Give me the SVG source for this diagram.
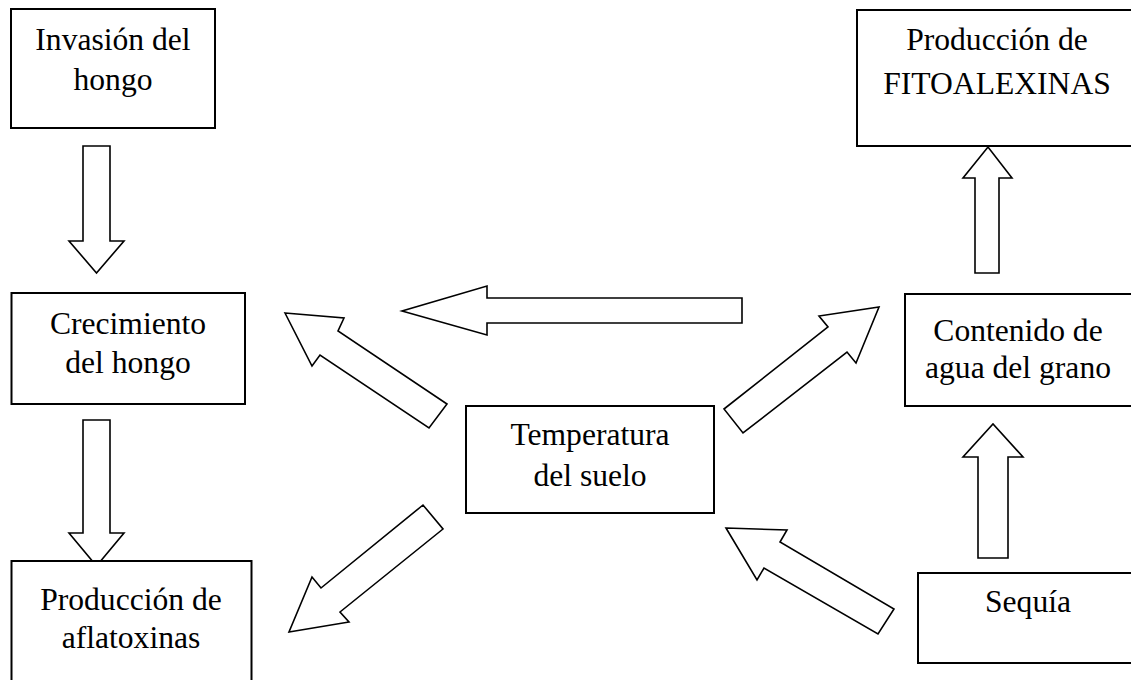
<svg xmlns="http://www.w3.org/2000/svg" width="1131" height="680" viewBox="0 0 1131 680">
<style>
.box{fill:#fff;stroke:#000;stroke-width:2}
.arr{fill:#fff;stroke:#000;stroke-width:1.6;stroke-linejoin:miter}
text{font-family:"Liberation Serif","Times New Roman",serif;font-size:31.6px;fill:#000;text-anchor:middle}
</style>
<rect width="1131" height="680" fill="#fff"/>
<g id="connectors">
<polygon class="arr" points="83,146 110,146 110,241 124,241 96.5,273 69,241 83,241"/>
<polygon class="arr" points="83,420 110,420 110,533 124,533 96.5,566 69,533 83,533"/>
<polygon class="arr" points="742,298 742,323 487,323 487,335 402,311 487,286 487,298"/>
<polygon class="arr" points="285,313 344,318 338,331 447,404 429,428 320,355 312,366"/>
<polygon class="arr" points="724,409 828,327 819,316 879,307 856,363 847,352 743,433"/>
<polygon class="arr" points="423,505 321,588 312,577 289,632 349,622 340,612 443,529"/>
<polygon class="arr" points="726,528 787,530 780,542 894,609 878,634 764,568 757,580"/>
<polygon class="arr" points="978,558 1008,558 1008,457 1023,457 993,424 963,457 978,457"/>
<polygon class="arr" points="975,273 999,273 999,178 1012,178 988,147 963,178 975,178"/>
</g>
<g id="n1"><rect class="box" x="11" y="9" width="204" height="119"/><text x="113" y="50">Invasión del</text><text x="113" y="90">hongo</text></g>
<g id="n2"><rect class="box" x="11.5" y="293" width="233.5" height="111"/><text x="128" y="334">Crecimiento</text><text x="128" y="373">del hongo</text></g>
<g id="n3"><rect class="box" x="11.5" y="561" width="240" height="125"/><text x="131" y="610">Producción de</text><text x="131" y="648">aflatoxinas</text></g>
<g id="n4"><rect class="box" x="466" y="406" width="248" height="107"/><text x="590" y="445">Temperatura</text><text x="590" y="486">del suelo</text></g>
<g id="n5"><rect class="box" x="857" y="10" width="290" height="136"/><text x="997" y="50">Producción de</text><text x="997" y="94">FITOALEXINAS</text></g>
<g id="n6"><rect class="box" x="905" y="294" width="240" height="112"/><text x="1018" y="341">Contenido de</text><text x="1018" y="378">agua del grano</text></g>
<g id="n7"><rect class="box" x="918" y="573" width="230" height="90"/><text x="1028" y="612">Sequía</text></g>
</svg>
